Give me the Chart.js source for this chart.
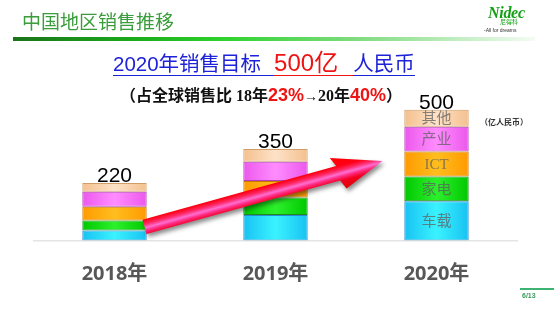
<!DOCTYPE html>
<html lang="zh">
<head>
<meta charset="UTF-8">
<title>中国地区销售推移</title>
<script src="https://cdn.jsdelivr.net/npm/chart.js"></script>
<style>
  html, body { margin: 0; padding: 0; background: #fff; }
  body { width: 554px; height: 311px; position: relative; overflow: hidden; font-family: "Noto Sans CJK SC", sans-serif; }
  #chart { position: absolute; left: 0; top: 0; }
  .abs { position: absolute; white-space: nowrap; line-height: 1; }
  #title { left: 22px; top: 11px; font-size: 19px; color: #3a9c3a; }
  #rule { left: 13px; top: 37px; width: 522px; height: 4px;
    background: linear-gradient(to right, #1a741a 0%, #1aa81a 22%, #2dd22d 40%, #86dd86 68%, #f4fbf4 100%); }
  #nidec { left: 488px; top: 4px; font: italic bold 16px "Liberation Serif", serif; color: #14a014; letter-spacing: -0.3px; }
  #nidec-cn { left: 500px; top: 19px; font-size: 6px; color: #14a014; }
  #nidec-tag { left: 484px; top: 27px; font: 5px "Liberation Sans", sans-serif; color: #333; }
  /* subtitle */
  #sub { left: 113px; top: 51px; display: flex; align-items: flex-end; }
  #sub span { display: inline-block; line-height: 1; padding-bottom: 1px; border-bottom: 1.5px solid currentColor;
    font-family: "Liberation Sans", "Noto Sans CJK SC", sans-serif; }
  #sub .blue { color: #1e22d8; font-size: 20.5px; }
  #sub .gap1 { padding-right: 13px; }
  #sub .red { color: #ee1414; font-size: 24px; padding-bottom: 0.4px; padding-right: 15px; }
  #ratio { left: 120px; top: 86px; display: flex; align-items: baseline; font-weight: bold; color: #111;
    font-family: "Liberation Serif", "Noto Sans CJK SC", serif; font-size: 16px; }
  #ratio .pct { color: #ee1414; font-size: 18px; font-family: "Liberation Sans", sans-serif; }
  #ratio .arr { font-size: 14px; font-family: "Liberation Sans", sans-serif; }
  #unit { left: 480px; top: 118px; font-size: 8px; font-weight: bold; color: #333; }
  #pgline { left: 520px; top: 288px; width: 34px; height: 1.5px; background: #3cb371; }
  #pg { left: 522px; top: 292px; font: bold 7px "Liberation Sans", sans-serif; color: #3a9a5a; }
</style>
</head>
<body>
<canvas id="chart" width="554" height="311"></canvas>

<div class="abs" id="title">中国地区销售推移</div>
<div class="abs" id="rule"></div>
<div class="abs" id="nidec">Nidec</div>
<div class="abs" id="nidec-cn">尼得科</div>
<div class="abs" id="nidec-tag">-All for dreams</div>

<div class="abs" id="sub"><span class="blue gap1">2020年销售目标</span><span class="red">500亿</span><span class="blue">人民币</span></div>
<div class="abs" id="ratio"><span>（占全球销售比&nbsp;18年</span><span class="pct">23%</span><span class="arr">→</span><span>20年</span><span class="pct">40%</span><span>）</span></div>
<div class="abs" id="unit">（亿人民币）</div>
<div class="abs" id="pgline"></div>
<div class="abs" id="pg">6/13</div>

<script>
    // 数据
    const years = ['2018年', '2019年', '2020年'];
    const segNames = ['车载', '家电', 'ICT', '产业', '其他'];
    const car = [38, 97, 150];
    const appliance = [38, 67, 95];
    const ict = [53, 63, 95];
    const industry = [57, 74, 95];
    const others = [34, 49, 65];
    const totals = [220, 350, 500];

    // [边缘, 中心, 边框]
    const palette = [
        ['#18c2f2', '#3af2ff', '#2a8cd0'],
        ['#00c800', '#2cf02c', '#1c8c1c'],
        ['#ff9a00', '#ffbe1e', '#cc7800'],
        ['#ec58ec', '#ff8cff', '#b042b8'],
        ['#f4c08e', '#fde2c8', '#cf9c6a']
    ];

    // 柱子横向渐变
    function shade(cols) {
        return (c) => {
            const ch = c.chart, xs = ch.scales.x;
            if (!xs || c.dataIndex === undefined) return cols[1];
            const cx = xs.getPixelForValue(c.dataIndex);
            const w = xs.width / years.length * 0.4;
            if (!isFinite(cx) || !isFinite(w) || w <= 0) return cols[1];
            const g = ch.ctx.createLinearGradient(cx - w / 2, 0, cx + w / 2, 0);
            g.addColorStop(0, cols[0]);
            g.addColorStop(0.5, cols[1]);
            g.addColorStop(1, cols[0]);
            return g;
        };
    }

    const series = [car, appliance, ict, industry, others];

    // 箭头、合计、分类文字
    const deco = {
        id: 'deco',
        afterDatasetsDraw(chart) {
            const ctx = chart.ctx, xs = chart.scales.x, ys = chart.scales.y;

            // 红色箭头
            const x0 = xs.getPixelForValue(0) + 30, y0 = ys.getPixelForValue(52);
            const x1 = xs.getPixelForValue(2) - 54, y1 = ys.getPixelForValue(304);
            const ang = Math.atan2(y1 - y0, x1 - x0), L = Math.hypot(x1 - x0, y1 - y0);
            const hl = 46, hw = 17, sw = 7.5;
            ctx.save();
            ctx.translate(x0, y0);
            ctx.rotate(ang);
            ctx.beginPath();
            ctx.moveTo(0, -sw);
            ctx.lineTo(L - hl, -sw);
            ctx.lineTo(L - hl - 4, -hw);
            ctx.lineTo(L, 0);
            ctx.lineTo(L - hl + 4, hw);
            ctx.lineTo(L - hl, sw);
            ctx.lineTo(0, sw);
            ctx.closePath();
            const g = ctx.createLinearGradient(0, -hw, 0, hw);
            g.addColorStop(0, '#ff0000');
            g.addColorStop(0.3, '#ff0014');
            g.addColorStop(0.43, '#ff2c6c');
            g.addColorStop(0.53, '#ff6ed2');
            g.addColorStop(0.62, '#ff2a80');
            g.addColorStop(0.74, '#f20020');
            g.addColorStop(1, '#e00000');
            ctx.shadowColor = 'rgba(0,0,0,0.45)';
            ctx.shadowBlur = 4;
            ctx.shadowOffsetX = 2;
            ctx.shadowOffsetY = 3;
            ctx.fillStyle = g;
            ctx.fill();
            ctx.restore();

            // 合计
            const top = chart.getDatasetMeta(series.length - 1);
            ctx.save();
            ctx.font = '21px "Liberation Sans", sans-serif';
            ctx.fillStyle = '#000';
            ctx.textAlign = 'center';
            ctx.textBaseline = 'alphabetic';
            top.data.forEach((el, j) => ctx.fillText(String(totals[j]), el.x, el.y - 1));
            ctx.restore();

            // 2020年柱内文字
            ctx.save();
            ctx.font = '15px "Liberation Serif", "Noto Sans CJK SC", serif';
            ctx.fillStyle = 'rgba(95,95,95,0.75)';
            ctx.textAlign = 'center';
            ctx.textBaseline = 'middle';
            const last = years.length - 1;
            segNames.forEach((name, i) => {
                const el = chart.getDatasetMeta(i).data[last];
                ctx.fillText(name, el.x, (el.y + el.base) / 2 + 1);
            });
            ctx.restore();
        }
    };

    new Chart(document.getElementById('chart'), {
        type: 'bar',
        data: {
            labels: years,
            datasets: series.map((vals, i) => ({
                label: segNames[i],
                data: vals,
                backgroundColor: shade(palette[i]),
                borderColor: palette[i][2],
                borderWidth: 1,
                borderSkipped: false,
                barPercentage: 0.5,
                categoryPercentage: 0.8
            }))
        },
        options: {
            responsive: false,
            animation: false,
            layout: { padding: { left: 34, right: 37, top: 83.5, bottom: 2.5 } },
            scales: {
                x: {
                    stacked: true,
                    grid: { display: false, drawTicks: false },
                    border: { display: true, color: '#e4e4e4', width: 1.5 },
                    ticks: {
                        color: '#575757',
                        padding: 22,
                        font: { family: '"Open Sans", "Noto Sans CJK SC", sans-serif', size: 20, weight: 'bold' }
                    }
                },
                y: { stacked: true, display: false, min: 0, max: 600 }
            },
            plugins: { legend: { display: false }, tooltip: { enabled: false } }
        },
        plugins: [deco]
    });
</script>
</body>
</html>
